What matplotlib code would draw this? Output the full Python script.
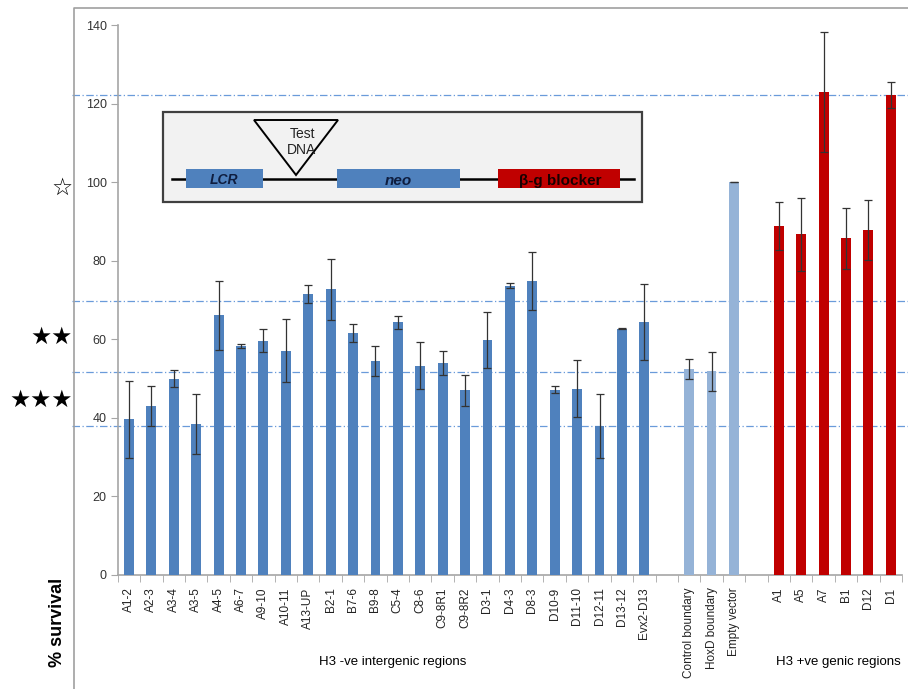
import numpy as np
import matplotlib
matplotlib.use('Agg')
import matplotlib.pyplot as plt
from matplotlib.patches import Rectangle, Polygon

# Values
intergenic = ['A1-2', 'A2-3', 'A3-4', 'A3-5', 'A4-5', 'A6-7', 'A9-10', 'A10-11', 'A13-UP',
              'B2-1', 'B7-6', 'B9-8', 'C5-4', 'C8-6', 'C9-8R1', 'C9-8R2', 'D3-1', 'D4-3',
              'D8-3', 'D10-9', 'D11-10', 'D12-11', 'D13-12', 'Evx2-D13']
intergenic_val = [39.6, 43.0, 50.0, 38.5, 66.1, 58.4, 59.6, 57.1, 71.5,
                  72.7, 61.6, 54.5, 64.3, 53.3, 53.9, 47.0, 59.8, 73.6,
                  74.9, 47.2, 47.4, 37.9, 62.7, 64.3]
intergenic_err = [9.8, 5.0, 2.2, 7.6, 8.8, 0.5, 2.9, 8.0, 2.3,
                  7.7, 2.3, 3.8, 1.7, 6.0, 3.0, 4.0, 7.2, 0.6,
                  7.4, 1.0, 7.3, 8.1, 0.1, 9.7]

controls = ['Control boundary', 'HoxD boundary', 'Empty vector']
controls_val = [52.5, 51.8, 100.0]
controls_err = [2.6, 5.0, 0.0]

genic = ['A1', 'A5', 'A7', 'B1', 'D12', 'D1']
genic_val = [88.9, 86.7, 123.0, 85.7, 87.8, 122.1]
genic_err = [6.1, 9.3, 15.2, 7.8, 7.7, 3.3]

ref_lines = [122.2, 69.7, 51.7, 37.8]
star_marks = ['\u2606', '\u2605\u2605', '\u2605\u2605\u2605']
star_y = [98.5, 60.5, 44.5]

plt.rcParams['font.family'] = ['Liberation Sans', 'DejaVu Sans']

labels = intergenic + [''] + controls + [''] + genic
pos_int = np.arange(len(intergenic))
pos_ctl = np.arange(len(controls)) + len(intergenic) + 1
pos_gen = np.arange(len(genic)) + len(intergenic) + len(controls) + 2
n_slots = len(labels)

fig = plt.figure(figsize=(9.08, 6.89), dpi=100)
ax = fig.add_axes([0.1297, 0.1655, 0.8637, 0.7982])

ekw = dict(ecolor='#333333', elinewidth=0.9, capsize=3, capthick=0.9)
w = 0.44
ax.bar(pos_int, intergenic_val, w, yerr=intergenic_err, color='#4F81BD', error_kw=ekw, zorder=3)
ax.bar(pos_ctl, controls_val, w, yerr=controls_err, color='#95B3D7', error_kw=ekw, zorder=3)
ax.bar(pos_gen, genic_val, w, yerr=genic_err, color='#C00000', error_kw=ekw, zorder=3)

ax.set_xlim(-0.5, n_slots - 0.5)
ax.set_ylim(0, 140)
ax.set_yticks(np.arange(0, 141, 20))
ax.set_xticks(np.arange(n_slots))
ax.set_xticklabels(labels, rotation=90, fontsize=8.5, color='#222222')
ax.set_xticks(np.arange(n_slots + 1) - 0.5, minor=True)
ax.tick_params(axis='x', which='major', length=0, pad=9)
ax.tick_params(axis='x', which='minor', length=5, color='#A6A6A6', direction='out')
ax.tick_params(axis='y', length=5, color='#A6A6A6', labelsize=9, labelcolor='#333333', pad=3)
for s in ['top', 'right']:
    ax.spines[s].set_visible(False)
for s in ['left', 'bottom']:
    ax.spines[s].set_color('#A6A6A6')
    ax.spines[s].set_linewidth(1.2)

for v in ref_lines:
    ax.axhline(v, xmin=-0.058, xmax=1.008, color='#6A9BDA', ls=(0, (6, 2, 1, 2)),
               lw=0.9, clip_on=False, zorder=1)

for s, v in zip(star_marks, star_y):
    ax.text(-0.057, v, s, transform=ax.get_yaxis_transform(), ha='right', va='center',
            fontsize=17, family='DejaVu Sans')

# overlay in pixel coordinates for the frame, inset diagram and captions
ov = fig.add_axes([0, 0, 1, 1], zorder=5)
ov.set_xlim(0, 908)
ov.set_ylim(689, 0)
ov.axis('off')
ov.patch.set_alpha(0)

ov.plot([74, 74, 908], [689, 8, 8], color='#A0A0A0', lw=1.2)

ov.add_patch(Rectangle((163, 112), 479, 90, facecolor='#F2F2F2', edgecolor='#404040',
                       lw=1.6, zorder=1))
ov.plot([172, 634], [179, 179], color='black', lw=1.8, zorder=1.5)
ov.add_patch(Rectangle((186, 169), 77, 19, facecolor='#4F81BD', edgecolor='none', zorder=2))
ov.add_patch(Rectangle((337, 169), 123, 19, facecolor='#4F81BD', edgecolor='none', zorder=2))
ov.add_patch(Rectangle((498, 169), 122, 19, facecolor='#C00000', edgecolor='none', zorder=2))
ov.add_patch(Polygon([[254, 120], [338, 120], [296, 175]], closed=True,
                     facecolor='none', edgecolor='black', lw=1.4, zorder=2))
ov.text(302, 142, 'Test\nDNA', ha='center', va='center', fontsize=10,
        color='#222222', linespacing=1.15, zorder=3)
ov.text(224, 180, 'LCR', ha='center', va='center', fontsize=10, fontweight='bold',
        fontstyle='italic', color='#0F1E40', zorder=3)
ov.text(398, 181, 'neo', ha='center', va='center', fontsize=11, fontweight='bold',
        fontstyle='italic', color='#0F1E40', zorder=3)
ov.text(560, 181, '\u03b2-g blocker', ha='center', va='center', fontsize=11,
        fontweight='bold', color='#1A0000', zorder=3)

ov.text(57, 622, '% survival', rotation=90, ha='center', va='center', fontsize=13,
        fontweight='bold')
ov.text(393, 662, 'H3 -ve intergenic regions', ha='center', va='center', fontsize=9.5)
ov.text(838, 662, 'H3 +ve genic regions', ha='center', va='center', fontsize=9.5)

fig.savefig('out.png', dpi=100)
